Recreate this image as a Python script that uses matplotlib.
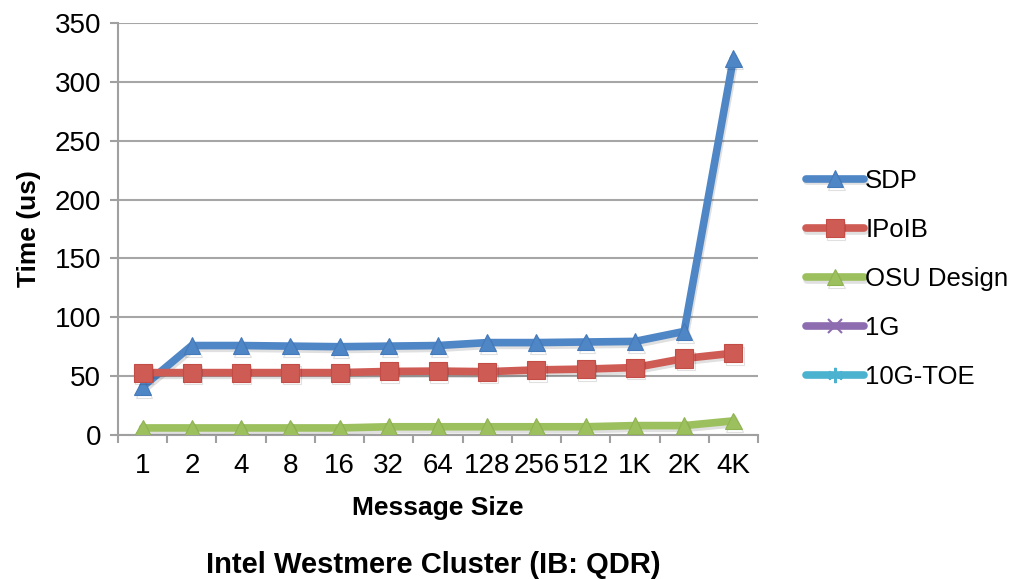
import matplotlib
matplotlib.use("Agg")
import matplotlib.pyplot as plt
import matplotlib.patheffects as pe

plt.rcParams['font.family'] = ['Liberation Sans', 'DejaVu Sans']

sizes = ["1", "2", "4", "8", "16", "32", "64", "128", "256", "512", "1K", "2K", "4K"]
sdp = [41, 76, 76, 75.5, 75, 75.5, 76, 78.5, 78.5, 79, 79.5, 88, 320]
ipoib = [53, 53, 53, 53, 53, 54, 54.3, 53.8, 55.3, 56, 57.3, 65, 69.5]
osu = [6, 6, 6, 6, 6, 7, 7, 7, 7, 7, 8, 8, 12]

series = [
    ("SDP", sdp, "#4F86C6", "#4479BA", "^", 12),
    ("IPoIB", ipoib, "#CF5B55", "#C44C46", "s", 13),
    ("OSU Design", osu, "#9DC05F", "#8FB351", "^", 12),
    ("1G", None, "#8E6CB0", "#8E6CB0", "x", 10),
    ("10G-TOE", None, "#4BB3CF", "#4BB3CF", (6, 2, 0), 11),
]

fig = plt.figure(figsize=(10.15, 5.79), dpi=100)
ax = fig.add_axes([118 / 1015, 1 - 435 / 579, (758 - 118) / 1015, (435 - 23) / 579])

x = list(range(len(sizes)))
shadow = [pe.SimpleLineShadow(offset=(1, -2), shadow_color="black", alpha=0.12), pe.Normal()]
handles = []
for name, vals, col, edge, mk, ms in series:
    if vals is None:
        h, = ax.plot([], [], color=col, lw=5.5, marker=mk, ms=ms, mec=col, mew=1.5,
                     solid_capstyle="round", label=name)
    else:
        h, = ax.plot(x, vals, color=col, lw=5.5, marker=mk, ms=ms, mfc=col, mec=edge,
                     mew=0.8, solid_capstyle="round", label=name, path_effects=shadow, zorder=3)
    handles.append(h)

ax.set_xlim(-0.5, len(sizes) - 0.5)
ax.set_ylim(0, 350)
ax.set_yticks(range(0, 351, 50))
ax.set_xticks(x)
ax.set_xticklabels(sizes)
ax.set_xticks([i - 0.5 for i in range(len(sizes) + 1)], minor=True)
ax.tick_params(axis="x", which="major", length=0, labelsize=20, pad=13)
ax.tick_params(axis="x", which="minor", length=6, width=1.5, color="#A0A0A0", direction="out")
ax.tick_params(axis="y", length=6, width=1.5, color="#A0A0A0", labelsize=20, pad=6)

ax.grid(axis="y", color="#A6A6A6", lw=1.5)
ax.set_axisbelow(True)
for s in ("top", "right"):
    ax.spines[s].set_visible(False)
for s in ("left", "bottom"):
    ax.spines[s].set_color("#A0A0A0")
    ax.spines[s].set_linewidth(1.5)

ax.set_ylabel("Time (us)", fontsize=19, fontweight="bold", labelpad=10)
ax.set_xlabel("Message Size", fontsize=19, fontweight="bold", labelpad=12)
fig.text(0.427, 1 - 565 / 579, "Intel Westmere Cluster (IB: QDR)", fontsize=21,
         fontweight="bold", ha="center", va="center")

fig.legend(handles=handles, loc="center left", bbox_to_anchor=(0.784, 1 - 279 / 579),
           frameon=False, fontsize=18.5, handlelength=2.25, handletextpad=0.05,
           labelspacing=0.98, borderaxespad=0)

fig.savefig("out.png", dpi=100)
